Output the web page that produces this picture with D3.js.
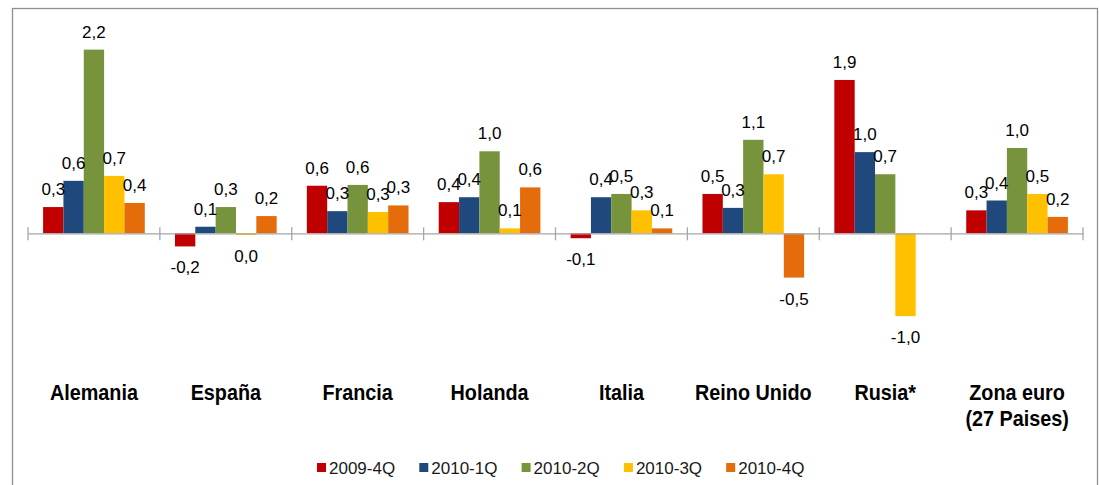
<!DOCTYPE html>
<html>
<head>
<meta charset="utf-8">
<script src="https://cdn.jsdelivr.net/npm/d3@7"></script>
<style>
  body { margin: 0; background: #fff; }
  svg { display: block; font-family: "Liberation Sans", Arial, sans-serif; }
</style>
</head>
<body>
<svg id="chart" width="1099" height="485"></svg>
<script>
// data
const categories = ["Alemania", "España", "Francia", "Holanda", "Italia", "Reino Unido", "Rusia*", "Zona euro\n(27 Paises)"]
const seriesNames = ["2009-4Q", "2010-1Q", "2010-2Q", "2010-3Q", "2010-4Q"]
const q2009_4 = [0.32, -0.16, 0.58, 0.38, -0.06, 0.48, 1.87, 0.28]
const q2010_1 = [0.64, 0.08, 0.27, 0.44, 0.44, 0.31, 0.99, 0.40]
const q2010_2 = [2.24, 0.32, 0.59, 1.00, 0.48, 1.14, 0.72, 1.04]
const q2010_3 = [0.70, -0.02, 0.26, 0.06, 0.28, 0.72, -1.01, 0.48]
const q2010_4 = [0.37, 0.21, 0.34, 0.56, 0.06, -0.54, null, 0.20]
const colors = ["#C00000", "#1F497D", "#77933C", "#FFC000", "#E46C0A"]

const seriesValues = [q2009_4, q2010_1, q2010_2, q2010_3, q2010_4]

const svg = d3.select("#chart")

// chart frame
svg.append("rect")
    .attr("x", 12.5).attr("y", 8.5)
    .attr("width", 1085).attr("height", 500)
    .attr("fill", "none")
    .attr("stroke", "#8f8f8f")
    .attr("stroke-width", 1.3)

const x0 = d3.scaleBand()
    .domain(categories)
    .range([28, 1083])
    .paddingInner(0.229)
    .paddingOuter(0.1145)

const x1 = d3.scaleBand()
    .domain(seriesNames)
    .range([0, x0.bandwidth()])

const y = d3.scaleLinear()
    .domain([-1.5, 2.5])
    .range([233.3 + 1.5 * 82, 233.3 - 2.5 * 82])

const fmt = d3.formatLocale({decimal: ",", thousands: ".", grouping: [3], currency: ["", "€"], minus: "-"}).format(".1f")

// bars
const groups = svg.selectAll("g.cat")
    .data(categories)
    .enter()
    .append("g")
    .attr("class", "cat")
    .attr("transform", (d) => "translate(" + x0(d) + ",0)")

groups.each(function (cat, ci) {
    const g = d3.select(this)
    const items = seriesNames.map((s, si) => ({ s: s, si: si, v: seriesValues[si][ci] }))
        .filter((d) => d.v !== null)

    g.selectAll("rect")
        .data(items)
        .enter()
        .append("rect")
        .attr("x", (d) => x1(d.s))
        .attr("width", x1.bandwidth())
        .attr("y", (d) => Math.min(y(d.v), y(0)))
        .attr("height", (d) => Math.abs(y(d.v) - y(0)))
        .attr("fill", (d) => colors[d.si])

    g.selectAll("text.val")
        .data(items)
        .enter()
        .append("text")
        .attr("class", "val")
        .attr("x", (d) => x1(d.s) + x1.bandwidth() / 2)
        .attr("y", (d) => d.v >= 0 ? y(d.v) - 12 : y(d.v) + 27)
        .attr("text-anchor", "middle")
        .attr("font-size", "17px")
        .attr("fill", "#000")
        .text((d) => fmt(d.v))
})

// axis at zero
const xAxis = d3.axisBottom(x0).tickSize(0).tickFormat("")
const axisG = svg.append("g")
    .attr("transform", "translate(0," + y(0) + ")")
    .call(xAxis)
axisG.select(".domain").attr("stroke", "#a6a6a6").attr("stroke-width", 1.3)

// boundary tick marks
const bounds = categories.map((c) => x0(c) - x0.step() * x0.paddingInner() / 2)
bounds.push(x0(categories[categories.length - 1]) + x0.bandwidth() + x0.step() * x0.paddingInner() / 2)
svg.selectAll("line.tick")
    .data(bounds)
    .enter()
    .append("line")
    .attr("class", "tick")
    .attr("x1", (d) => d).attr("x2", (d) => d)
    .attr("y1", y(0) - 6).attr("y2", y(0) + 7)
    .attr("stroke", "#a6a6a6")
    .attr("stroke-width", 1.3)

// category labels
categories.forEach((c) => {
    const cx = x0(c) + x0.bandwidth() / 2
    c.split("\n").forEach((line, li) => {
        svg.append("text")
            .attr("transform", "translate(" + cx + "," + (400 + li * 26) + ") scale(0.9,1)")
            .attr("text-anchor", "middle")
            .attr("font-size", "22px")
            .attr("font-weight", "bold")
            .attr("fill", "#000")
            .text(line)
    })
})

// legend
const legend = svg.selectAll("g.leg")
    .data(seriesNames)
    .enter()
    .append("g")
    .attr("class", "leg")
    .attr("transform", (d, i) => "translate(" + (317 + i * 102.3) + ",463)")

legend.append("rect")
    .attr("width", 9).attr("height", 9)
    .attr("fill", (d, i) => colors[i])

legend.append("text")
    .attr("x", 12).attr("y", 11)
    .attr("font-size", "17px")
    .attr("fill", "#1a1a1a")
    .text((d) => d)
</script>
</body>
</html>
